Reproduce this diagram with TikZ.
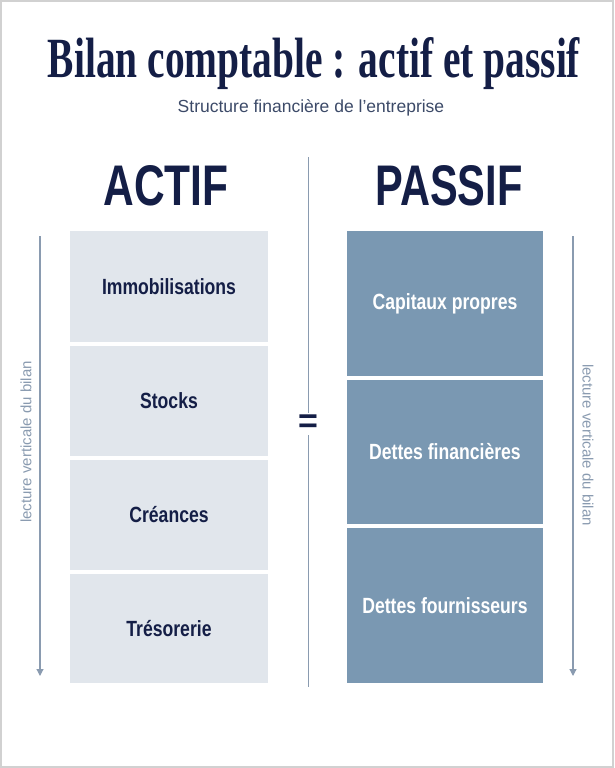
\documentclass[tikz,border=0pt]{standalone}
\usepackage{fontspec}
\setmainfont{Liberation Sans}
\newfontfamily\serifb{Liberation Serif}
\usetikzlibrary{arrows.meta}
\definecolor{navy}{HTML}{141E46}
\definecolor{lite}{HTML}{E1E6EC}
\definecolor{dark}{HTML}{7A98B2}
\definecolor{lin}{HTML}{8A9BB0}
\definecolor{sub}{HTML}{3C4A68}
\begin{document}
\begin{tikzpicture}[x=1pt,y=-1pt,
  lb/.style={fill=lite,draw=none},
  db/.style={fill=dark,draw=none},
  lt/.style={font=\bfseries\fontsize{22}{24}\selectfont,text=navy},
  dt/.style={font=\bfseries\fontsize{22}{24}\selectfont,text=white},
  ar/.style={draw=lin,line width=1.2pt,-{Triangle[length=7pt,width=7pt]}},
  side/.style={font=\fontsize{15}{16}\selectfont,text=lin}]
\useasboundingbox (0,0) rectangle (614,768);
\draw[draw=black!18,line width=1.5pt] (1,1) rectangle (613,767);
\node (title) at (314,64) {\resizebox{532pt}{40pt}{\serifb\bfseries\color{navy}Bilan comptable : actif et passif}};
\node[font=\fontsize{17.5}{20}\selectfont,text=sub] (subt) at (311,108) {Structure financière de l’entreprise};
\node (actif) at (166,186) {\resizebox{125pt}{40pt}{\bfseries\color{navy}ACTIF}};
\node (passif) at (449,186) {\resizebox{147pt}{40pt}{\bfseries\color{navy}PASSIF}};
\coordinate (dtop) at (308,157); \coordinate (dbot) at (308,687);
\draw[lin,line width=1pt] (dtop) -- (dbot);
\node[lb,minimum width=198pt,minimum height=111pt] (a1) at (169,286.5) {};
\node[lb,minimum width=198pt,minimum height=110pt] (a2) at (169,401) {};
\node[lb,minimum width=198pt,minimum height=110pt] (a3) at (169,515) {};
\node[lb,minimum width=198pt,minimum height=109pt] (a4) at (169,628.5) {};
\node[lt] at (a1) {\scalebox{0.8}[1]{Immobilisations}};
\node[lt] at (a2) {\scalebox{0.8}[1]{Stocks}};
\node[lt] at (a3) {\scalebox{0.8}[1]{Créances}};
\node[lt] at (a4) {\scalebox{0.8}[1]{Trésorerie}};
\node[db,minimum width=196pt,minimum height=145pt] (p1) at (445,303.5) {};
\node[db,minimum width=196pt,minimum height=144pt] (p2) at (445,452) {};
\node[db,minimum width=196pt,minimum height=155pt] (p3) at (445,605.5) {};
\node[dt] at (p1) {\scalebox{0.8}[1]{Capitaux propres}};
\node[dt] at (p2) {\scalebox{0.8}[1]{Dettes financières}};
\node[dt] at (p3) {\scalebox{0.8}[1]{Dettes fournisseurs}};
\node[fill=white,inner sep=2pt,font=\bfseries\fontsize{34}{34}\selectfont,text=navy] (eq) at (308,424) {=};
\coordinate (la) at (40,236); \coordinate (lb2) at (40,676);
\coordinate (ra) at (573,236); \coordinate (rb) at (573,676);
\draw[ar] (la) -- (lb2);
\draw[ar] (ra) -- (rb);
\node[side,rotate=90] (ls) at (26,442) {lecture verticale du bilan};
\node[side,rotate=-90] (rs) at (588,445) {lecture verticale du bilan};
\end{tikzpicture}
\end{document}
